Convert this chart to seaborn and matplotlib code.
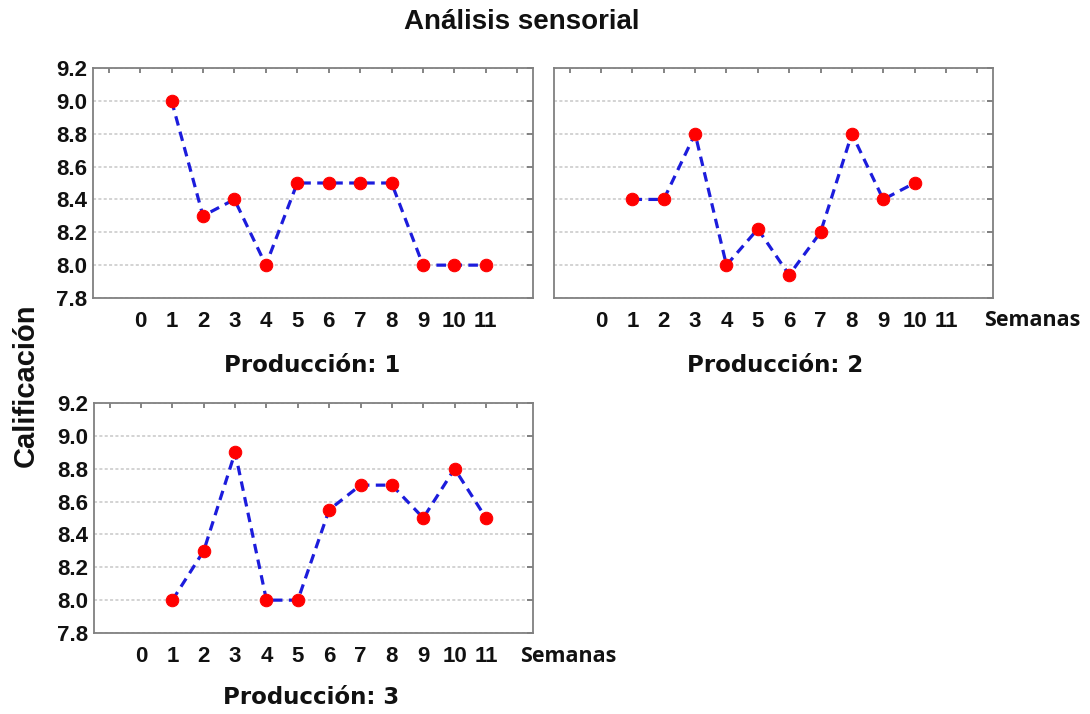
import matplotlib
matplotlib.use('Agg')
import matplotlib.pyplot as plt
import seaborn as sns
import pandas as pd

# data
semanas_1 = [1, 2, 3, 4, 5, 6, 7, 8, 9, 10, 11]
calif_1 = [9.0, 8.3, 8.4, 8.0, 8.5, 8.5, 8.5, 8.5, 8.0, 8.0, 8.0]

semanas_2 = [1, 2, 3, 4, 5, 6, 7, 8, 9, 10]
calif_2 = [8.4, 8.4, 8.8, 8.0, 8.22, 7.94, 8.2, 8.8, 8.4, 8.5]

semanas_3 = [1, 2, 3, 4, 5, 6, 7, 8, 9, 10, 11]
calif_3 = [8.0, 8.3, 8.9, 8.0, 8.0, 8.55, 8.7, 8.7, 8.5, 8.8, 8.5]

x_ticks = list(range(-1, 13))
x_labels = [''] + [str(i) for i in range(0, 12)] + ['']
y_ticks = [7.8, 8.0, 8.2, 8.4, 8.6, 8.8, 9.0, 9.2]
y_labels = ['7.8', '8.0', '8.2', '8.4', '8.6', '8.8', '9.0', '9.2']

sns.set_style('white')
plt.rcParams['font.family'] = ['Liberation Sans', 'DejaVu Sans']

W, H = 1090, 714
fig = plt.figure(figsize=(W / 100, H / 100), dpi=100)


def box(x0, y0, x1, y1):
    # pixel box -> figure fraction
    return [x0 / W, 1 - y1 / H, (x1 - x0) / W, (y1 - y0) / H]


panels = [
    (box(93, 68, 533, 298), semanas_1, calif_1, True),
    (box(554, 68, 993, 298), semanas_2, calif_2, False),
    (box(94, 403, 533, 633), semanas_3, calif_3, True),
]

for pos, xs, ys, show_y in panels:
    ax = fig.add_axes(pos)
    df = pd.DataFrame({'Semanas': xs, 'Calificacion': ys})
    sns.lineplot(data=df, x='Semanas', y='Calificacion', ax=ax,
                 color='#1c1cdc', linewidth=2.3, dashes=False,
                 marker='o', markersize=9, markerfacecolor='#ff0000',
                 markeredgecolor='#ff0000')
    ax.lines[0].set_dashes((3, 2))
    ax.set_xlim(-1.5, 12.5)
    ax.set_ylim(7.8, 9.2)
    ax.set_xticks(x_ticks)
    ax.set_xticklabels(x_labels)
    ax.set_yticks(y_ticks)
    ax.set_yticklabels(y_labels if show_y else [''] * len(y_ticks))
    ax.set_xlabel('')
    ax.set_ylabel('')
    for lab in ax.get_xticklabels() + ax.get_yticklabels():
        lab.set_fontweight('bold')
        lab.set_fontsize(16)
        lab.set_color('#111111')
    ax.tick_params(axis='both', direction='in', top=True, right=True,
                   color='#707070', width=1.2)
    ax.tick_params(axis='x', length=3.5, pad=9)
    ax.tick_params(axis='y', length=4.5, pad=4)
    for s in ax.spines.values():
        s.set_color('#808080')
        s.set_linewidth(1.3)
    ax.yaxis.grid(True, color='#c8c8c8', linestyle=(0, (2, 1.5)), linewidth=1.1)
    ax.set_axisbelow(True)


def ftext(x, y, s, **kw):
    fig.text(x / W, 1 - y / H, s, ha='center', va='center', **kw)


ftext(522, 22, 'Análisis sensorial', fontsize=20, fontweight='bold',
      family=['Liberation Sans', 'DejaVu Sans'], color='#111111')
ftext(26, 385, 'Calificación', fontsize=21, fontweight='bold', rotation=90,
      family=['Liberation Sans', 'DejaVu Sans'], color='#111111')
ftext(312, 366, 'Producción: 1', fontsize=16.5, fontweight='bold',
      family=['DejaVu Sans'], color='#111111')
ftext(775, 366, 'Producción: 2', fontsize=16.5, fontweight='bold',
      family=['DejaVu Sans'], color='#111111')
ftext(311, 698, 'Producción: 3', fontsize=16.5, fontweight='bold',
      family=['DejaVu Sans'], color='#111111')
ftext(1032, 321, 'Semanas', fontsize=15.5, fontweight='bold',
      family=['Open Sans', 'DejaVu Sans'], color='#111111')
ftext(568, 657, 'Semanas', fontsize=15.5, fontweight='bold',
      family=['Open Sans', 'DejaVu Sans'], color='#111111')

fig.savefig('out.png', dpi=100)
